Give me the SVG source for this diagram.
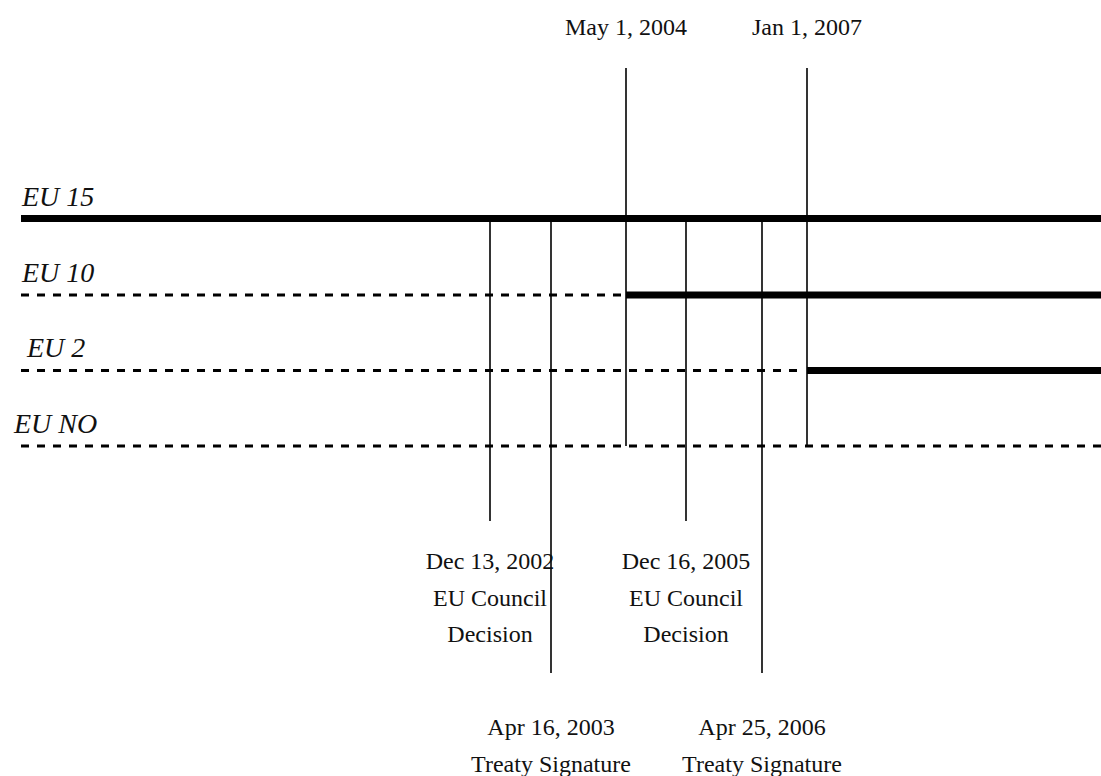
<svg xmlns="http://www.w3.org/2000/svg" width="1101" height="776" viewBox="0 0 1101 776">
<style>
.bg{fill:#fff}
.thick{stroke:#000;stroke-width:7;fill:none}
.dash{stroke:#000;stroke-width:3;stroke-dasharray:8 8;fill:none}
.vline{stroke:#000;stroke-width:1.6;fill:none}
.lbl{font-family:"Liberation Serif","DejaVu Serif",serif;font-size:24px;fill:#111;text-anchor:middle}
.eu{font-family:"Liberation Serif","DejaVu Serif",serif;font-size:28px;font-style:italic;fill:#111}
</style>
<rect class="bg" x="0" y="0" width="1101" height="776"/>
<g id="connectors">
<line class="thick" x1="21" y1="218.5" x2="1101" y2="218.5"/>
<line class="dash" x1="21" y1="295" x2="622" y2="295"/>
<line class="thick" x1="626" y1="295" x2="1101" y2="295"/>
<line class="dash" x1="21" y1="370.5" x2="805" y2="370.5"/>
<line class="thick" x1="807" y1="370.5" x2="1101" y2="370.5"/>
<line class="dash" x1="21" y1="446" x2="1101" y2="446"/>
<line class="vline" x1="490" y1="219" x2="490" y2="521"/>
<line class="vline" x1="551" y1="219" x2="551" y2="673"/>
<line class="vline" x1="626" y1="68" x2="626" y2="446"/>
<line class="vline" x1="686" y1="219" x2="686" y2="521"/>
<line class="vline" x1="762" y1="219" x2="762" y2="673"/>
<line class="vline" x1="807" y1="68" x2="807" y2="446"/>
</g>
<g id="eu15"><text class="eu" x="22" y="206">EU 15</text></g>
<g id="eu10"><text class="eu" x="22" y="282">EU 10</text></g>
<g id="eu2"><text class="eu" x="27" y="357">EU 2</text></g>
<g id="euno"><text class="eu" x="14" y="433">EU NO</text></g>
<g id="may2004"><text class="lbl" x="626" y="35">May 1, 2004</text></g>
<g id="jan2007"><text class="lbl" x="807" y="35">Jan 1, 2007</text></g>
<g id="dec2002"><text class="lbl" x="490" y="569">Dec 13, 2002</text><text class="lbl" x="490" y="606">EU Council</text><text class="lbl" x="490" y="642">Decision</text></g>
<g id="dec2005"><text class="lbl" x="686" y="569">Dec 16, 2005</text><text class="lbl" x="686" y="606">EU Council</text><text class="lbl" x="686" y="642">Decision</text></g>
<g id="apr2003"><text class="lbl" x="551" y="735">Apr 16, 2003</text><text class="lbl" x="551" y="772">Treaty Signature</text></g>
<g id="apr2006"><text class="lbl" x="762" y="735">Apr 25, 2006</text><text class="lbl" x="762" y="772">Treaty Signature</text></g>
</svg>
